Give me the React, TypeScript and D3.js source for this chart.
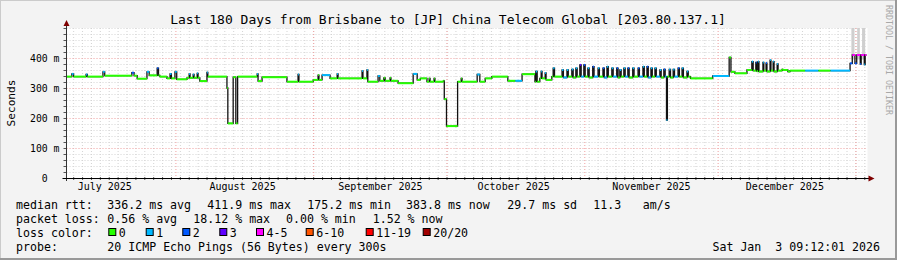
import React from 'react';
import * as d3 from 'd3';

// ---------- data ----------
const END_MS = Date.UTC(2026, 0, 3, 9, 12, 1); // local (Brisbane) time shown as UTC
const DAY_MS = 864e5;
const SPAN_DAYS = 180;

const titleText = 'Last 180 Days from Brisbane to [JP] China Telecom Global [203.80.137.1]';
const yTickValues = [0, 100, 200, 300, 400];
const yTickLabels = ['0  ', '100 m', '200 m', '300 m', '400 m'];
const monthLabels = ['July 2025', 'August 2025', 'September 2025', 'October 2025', 'November 2025', 'December 2025'];
const monthIndex = [[2025, 6], [2025, 7], [2025, 8], [2025, 9], [2025, 10], [2025, 11], [2026, 0]];

// median rtt steps: [day offset from start, ms, loss level index]
const medianSteps: [number, number, number][] = [
  [0, 338, 0], [1.2, 347, 1], [1.6, 338, 0], [4.4, 345, 1], [4.7, 338, 0],
  [8.2, 354, 1], [8.6, 341, 0], [14.7, 351, 2], [15.2, 341, 0], [15.9, 331, 0],
  [18.1, 354, 1], [18.6, 342, 0], [20.4, 366, 2], [20.7, 342, 0], [21.0, 338, 0],
  [22.6, 332, 0], [23.3, 347, 1], [23.6, 332, 0], [24.4, 354, 1], [24.8, 329, 0],
  [27.1, 334, 0], [27.6, 347, 1], [27.8, 334, 0], [28.5, 345, 1], [28.7, 334, 0],
  [29.4, 349, 1], [29.6, 334, 0], [30.0, 323, 0], [31.6, 352, 1], [31.8, 338, 0],
  [36.1, 300, 0], [36.3, 182, 0], [37.5, 336, 0], [38.1, 182, 0], [38.5, 338, 0],
  [42.9, 347, 1], [43.1, 323, 0], [44.0, 336, 0], [49.6, 321, 0], [52.1, 345, 1],
  [52.3, 321, 0], [55.5, 327, 0], [56.6, 343, 0], [56.8, 327, 0], [57.5, 343, 1],
  [59.3, 332, 0], [60.9, 347, 1], [61.1, 332, 0], [66.5, 357, 1], [66.7, 332, 0],
  [67.6, 360, 1], [67.8, 321, 0], [70.1, 340, 1], [70.5, 324, 0], [71.4, 334, 0],
  [71.7, 324, 0], [72.8, 334, 0], [73.0, 324, 0], [74.6, 316, 0], [78.0, 347, 1],
  [78.9, 327, 0], [79.6, 332, 0], [81.1, 321, 0], [81.6, 332, 0], [81.8, 321, 0],
  [82.7, 332, 0], [82.9, 321, 0], [84.8, 324, 0], [85.0, 263, 0], [85.5, 173, 0],
  [88.0, 321, 0], [88.8, 332, 0], [89.0, 321, 0], [92.4, 345, 1], [93.0, 321, 0],
  [94.2, 332, 0], [95.7, 338, 0], [99.3, 324, 0], [101.0, 324, 1], [102.5, 346, 0], [105.4, 321, 0],
  [105.6, 355, 1], [105.9, 321, 0], [106.5, 332, 0], [106.8, 355, 1], [107.0, 332, 0],
  [107.7, 350, 1], [107.9, 327, 0], [109.2, 338, 0],
  [109.5, 366, 1], [109.8, 338, 0], [111.5, 360, 1], [111.8, 335, 1], [112.6, 360, 1], [112.9, 338, 0],
  [113.7, 362, 1], [114.0, 335, 0], [114.6, 366, 1], [114.9, 338, 0], [115.5, 377, 3], [115.8, 338, 1],
  [116.4, 377, 2], [116.7, 338, 0], [117.3, 366, 1], [117.6, 335, 0], [118.4, 371, 2], [118.7, 338, 1],
  [119.6, 366, 1], [119.9, 338, 0], [120.7, 366, 2], [121.0, 335, 1], [121.6, 371, 1], [121.9, 338, 0],
  [122.7, 366, 1], [123.0, 338, 1], [123.8, 366, 2], [124.1, 335, 0], [124.5, 360, 1], [124.8, 338, 0],
  [125.4, 366, 1], [125.7, 338, 1], [126.3, 366, 2], [126.6, 335, 0], [127.4, 366, 1], [127.7, 338, 0],
  [128.6, 366, 2], [128.9, 338, 1], [129.7, 371, 1], [130.0, 338, 0], [130.6, 371, 2], [130.9, 335, 1],
  [131.5, 366, 1], [131.8, 338, 0], [132.4, 366, 1], [132.7, 338, 1], [133.5, 360, 1], [133.8, 335, 0],
  [134.4, 362, 2], [134.7, 338, 1], [135.0, 193, 1], [135.2, 338, 0], [135.6, 362, 1], [135.9, 335, 0],
  [136.5, 362, 1], [136.8, 338, 1], [137.6, 366, 2], [137.9, 338, 0], [138.5, 366, 1], [138.8, 335, 0],
  [139.6, 355, 1], [139.9, 338, 0], [140.4, 332, 0], [145.4, 340, 1], [149.1, 402, 0], [149.5, 354, 0],
  [150.4, 349, 0], [153.1, 360, 0], [154.2, 388, 1], [154.5, 358, 0], [155.1, 385, 2], [155.3, 356, 0],
  [155.6, 388, 1], [155.8, 355, 0], [156.7, 385, 1], [156.9, 358, 0], [157.4, 383, 2], [157.6, 355, 0],
  [158.3, 393, 1], [158.5, 358, 0], [159.0, 388, 1], [159.2, 355, 0], [159.9, 380, 1], [160.1, 358, 0],
  [161.0, 362, 0], [161.2, 360, 0], [162.3, 355, 0], [162.8, 358, 0], [166.2, 358, 1], [169.2, 358, 0],
  [171.9, 358, 1], [176.3, 382, 2], [176.8, 410, 4], [177.4, 382, 2], [177.8, 410, 4], [178.6, 380, 2],
  [178.8, 410, 4], [179.5, 378, 1], [179.7, 410, 4],
];

// smoke bands: [start day, end day, low ms, high ms]
const smokeBands: [number, number, number, number][] = [
  [176.6, 177.3, 395, 500], [177.9, 178.5, 395, 500], [179.0, 179.7, 395, 500],
];

const lossColors = ['#26ff00', '#00b8ff', '#0059ff', '#5e00ff', '#ff00ff', '#ff5500', '#ff0000', '#a10000'];
const lossLabels = ['0', '1', '2', '3', '4-5', '6-10', '11-19', '20/20'];

const rttStats = ['336.2 ms avg', '411.9 ms max', '175.2 ms min', '383.8 ms now', '29.7 ms sd', '11.3', 'am/s'];
const lossStats = ['0.56 % avg', '18.12 % max', '0.00 % min', '1.52 % now'];
const probeText = '20 ICMP Echo Pings (56 Bytes) every 300s';
const dateText = 'Sat Jan  3 09:12:01 2026';

// ---------- layout ----------
const W = 897, H = 260;
const X0 = 66.5, X1 = 866.5, Y0 = 178, Y1 = 28;
const MONO = '"DejaVu Sans Mono", monospace';
const rttX = [107.3, 207.3, 307.3, 406, 507.3, 593.3, 642.7];
const lossX = [107.3, 193.3, 286, 372.7];
const boxX = [108.3, 145.7, 182.3, 219.3, 256, 305.7, 365.7, 422.7];

export default function App() {
  const START_MS = END_MS - SPAN_DAYS * DAY_MS;
  const x = d3.scaleUtc().domain([new Date(START_MS), new Date(END_MS)]).range([X0, X1]);
  const y = d3.scaleLinear().domain([0, 500]).range([Y0, Y1]);
  const xd = (d: number) => x(new Date(START_MS + d * DAY_MS));

  // grid
  const minorV: number[] = [];
  for (let t = Math.ceil(START_MS / (2 * DAY_MS)) * 2 * DAY_MS; t <= END_MS; t += 2 * DAY_MS) minorV.push(x(new Date(t)));
  const majorV = monthIndex.map(([yy, mm]) => Date.UTC(yy, mm, 1)).filter(t => t > START_MS && t < END_MS).map(t => x(new Date(t)));
  const labelPos = monthIndex.slice(0, 6).map(([yy, mm]) => x(new Date(Date.UTC(yy, mm, 1) + 15 * DAY_MS)));
  const minorH = d3.range(20, 501, 20).filter(v => v % 100 !== 0 || v === 500);
  const majorH = [100, 200, 300, 400];

  const pts: [number, number][] = medianSteps.map(s => [s[0], s[1]]);
  pts.push([SPAN_DAYS, medianSteps[medianSteps.length - 1][1]]);
  const line = d3.line<[number, number]>().x(p => xd(p[0])).y(p => y(p[1])).curve(d3.curveStepAfter);

  return (
    <svg width={W} height={H} style={{ position: 'absolute', left: 0, top: 0, display: 'block' }} fontFamily={MONO}>
      <rect x={0} y={0} width={W} height={H} fill="#f3f3f3" />
      <line x1={0} y1={0.5} x2={W} y2={0.5} stroke="#cbcbcb" />
      <line x1={0.5} y1={0} x2={0.5} y2={H} stroke="#cbcbcb" />
      <line x1={0} y1={H - 1} x2={W} y2={H - 1} stroke="#999" strokeWidth={2} />
      <line x1={W - 1} y1={0} x2={W - 1} y2={H} stroke="#999" strokeWidth={2} />
      <rect x={X0} y={Y1} width={X1 - X0 + 1} height={Y0 - Y1} fill="#fff" />

      {minorH.map(v => (
        <line key={'mh' + v} x1={X0} x2={X1 + 1} y1={y(v) + 0.5} y2={y(v) + 0.5} stroke="#d4d4d4" strokeDasharray="1,2" />
      ))}
      {minorV.map((px, i) => (
        <line key={'mv' + i} x1={px} x2={px} y1={Y1} y2={Y0} stroke="#d4d4d4" strokeDasharray="1,2" />
      ))}
      {majorH.map(v => (
        <line key={'Mh' + v} x1={X0} x2={X1 + 1} y1={y(v) + 0.5} y2={y(v) + 0.5} stroke="#f0a0a0" strokeDasharray="1,2" />
      ))}
      {majorV.map((px, i) => (
        <line key={'Mv' + i} x1={px} x2={px} y1={Y1} y2={Y0} stroke="#f0a0a0" strokeDasharray="1,2" />
      ))}

      {smokeBands.map((b, i) => (
        <rect key={'s' + i} x={xd(b[0])} width={xd(b[1]) - xd(b[0])} y={y(b[3])} height={y(b[2]) - y(b[3])} fill="#cfcfcf" />
      ))}

      <path d={line(pts) || ''} fill="none" stroke="#111" strokeWidth={1.3} />
      {medianSteps.map((s, i) => {
        const next = i + 1 < medianSteps.length ? medianSteps[i + 1][0] : SPAN_DAYS;
        return (
          <line key={'m' + i} x1={xd(s[0])} x2={xd(next)} y1={y(s[1])} y2={y(s[1])} stroke={lossColors[s[2]]} strokeWidth={2} />
        );
      })}

      {/* axes */}
      {minorV.map((px, i) => (
        <line key={'tx' + i} x1={px} x2={px} y1={Y0 - 1} y2={Y0 + 2} stroke="#555" />
      ))}
      {d3.range(0, 501, 20).map(v => (
        <line key={'ty' + v} x1={X0 - 3} x2={X0} y1={y(v) + 0.5} y2={y(v) + 0.5} stroke="#555" />
      ))}
      <line x1={X0} x2={X0} y1={Y0 + 3} y2={23} stroke="#333" />
      <line x1={X0 - 4} x2={X1 + 4} y1={Y0 + 0.5} y2={Y0 + 0.5} stroke="#000" />
      <polygon points={`${X0 - 3},26 ${X0 + 3},26 ${X0},20`} fill="#7f0000" />
      <polygon points={`${X1 + 2},${Y0 - 2.5} ${X1 + 2},${Y0 + 3.5} ${X1 + 8},${Y0 + 0.5}`} fill="#7f0000" />

      {yTickValues.map((v, i) => (
        <text key={'yl' + v} x={59.5} y={y(v) + 3.5} fontSize={9.8} textAnchor="end" xmlSpace="preserve" fill="#000">{yTickLabels[i]}</text>
      ))}
      {monthLabels.map((m, i) => (
        <text key={'ml' + i} x={labelPos[i]} y={190} fontSize={10} textAnchor="middle" fill="#000">{m}</text>
      ))}

      <text x={448} y={24} fontSize={13} textAnchor="middle" fill="#000">{titleText}</text>
      <text transform="translate(14.5,103) rotate(-90)" fontSize={11.1} textAnchor="middle" fill="#000">Seconds</text>
      <text transform="translate(885.5,5) rotate(90)" fontSize={8.3} fill="#a8a8a8">RRDTOOL / TOBI OETIKER</text>

      {/* legend */}
      <g fontSize={11.6} fill="#000" xmlSpace="preserve">
        <text x={16} y={208.5}>median rtt:</text>
        {rttStats.map((s, i) => <text key={'r' + i} x={rttX[i]} y={208.5}>{s}</text>)}
        <text x={16} y={222.5}>packet loss:</text>
        {lossStats.map((s, i) => <text key={'l' + i} x={lossX[i]} y={222.5}>{s}</text>)}
        <text x={16} y={236.5}>loss color:</text>
        {lossLabels.map((s, i) => (
          <g key={'lc' + i}>
            <rect x={boxX[i] + 0.5} y={228.5} width={7} height={7} fill={lossColors[i]} stroke="#000" />
            <text x={boxX[i] + 10.5} y={236.5}>{s}</text>
          </g>
        ))}
        <text x={16} y={250.5}>probe:</text>
        <text x={107.3} y={250.5}>{probeText}</text>
        <text x={880} y={250.5} textAnchor="end" xmlSpace="preserve">{dateText}</text>
      </g>
    </svg>
  );
}
